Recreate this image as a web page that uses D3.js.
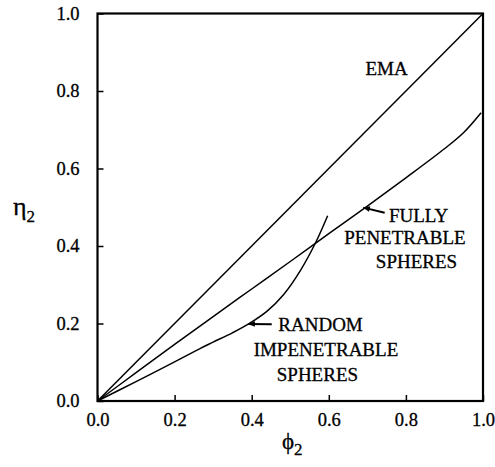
<!DOCTYPE html>
<html>
<head>
<meta charset="utf-8">
<script src="https://cdn.jsdelivr.net/npm/d3@7"></script>
<style>
  body { margin: 0; background: #fff; }
  svg text { font-family: "Liberation Serif", serif; fill: #000; stroke: #000; stroke-width: 0.3px; }
</style>
</head>
<body>
<div id="chart"></div>
<script>
// values (phi_2 -> eta_2)
const tickValues = [0, 0.2, 0.4, 0.6, 0.8, 1.0];

const emaPhi = [0, 1.0];
const emaEta = [0, 1.0];

const fullyPhi = [0, 0.1, 0.2, 0.3, 0.4, 0.5, 0.6, 0.7, 0.8, 0.9, 0.95, 0.995];
const fullyEta = [0, 0.073, 0.146, 0.218, 0.289, 0.36, 0.432, 0.503, 0.576, 0.651, 0.693, 0.744];

const randomPhi = [0, 0.1, 0.2, 0.267, 0.3, 0.35, 0.392, 0.44, 0.483, 0.527, 0.566, 0.597];
const randomEta = [0, 0.05, 0.101, 0.136, 0.152, 0.176, 0.199, 0.232, 0.275, 0.338, 0.409, 0.478];

// curve labels: lines of text, anchor in data units
const labelText = [["EMA"], ["FULLY", "PENETRABLE", "SPHERES"], ["RANDOM", "IMPENETRABLE", "SPHERES"]];
const labelPhi = [[0.695], [0.756, 0.64, 0.722], [0.469, 0.405, 0.465]];
const labelEta = [[0.842], [0.462, 0.404, 0.342], [0.18, 0.115, 0.052]];

// arrows pointing at curves: [tailPhi, tailEta, tipPhi, tipEta]
const arrows = [
  [0.745, 0.486, 0.69, 0.499],
  [0.452, 0.198, 0.392, 0.199]
];

const serif = '"Liberation Serif", serif';
const width = 495;
const height = 467;

let svg = d3.select('#chart')
  .append('svg')
    .attr('width', width)
    .attr('height', height);

let x = d3.scaleLinear().domain([0, 1]).range([97.5, 483]);
let y = d3.scaleLinear().domain([0, 1]).range([401, 13.5]);

let fmt = d3.format('.1f');

let xAxis = d3.axisBottom(x)
  .tickValues(tickValues)
  .tickFormat(fmt)
  .tickSizeInner(-6)
  .tickSizeOuter(0)
  .tickPadding(12);
let yAxis = d3.axisLeft(y)
  .tickValues(tickValues)
  .tickFormat(fmt)
  .tickSizeInner(-6)
  .tickSizeOuter(0)
  .tickPadding(18);

let xAxisGroup = svg.append('g')
  .attr('transform', `translate(0,${y(0)})`)
  .call(xAxis);
let yAxisGroup = svg.append('g')
  .attr('transform', `translate(${x(0)},0)`)
  .call(yAxis);

for (let g of [xAxisGroup, yAxisGroup]) {
  g.attr('font-family', serif).attr('font-size', 18.5);
  g.select('.domain').remove();
  g.selectAll('line').attr('stroke', '#000').attr('stroke-width', 1.5);
  g.selectAll('text').attr('fill', '#000');
}

// frame
svg.append('rect')
  .attr('x', x(0))
  .attr('y', y(1))
  .attr('width', x(1) - x(0))
  .attr('height', y(0) - y(1))
  .attr('fill', 'none')
  .attr('stroke', '#000')
  .attr('stroke-width', 2.2);

// curves
let line = d3.line()
  .x(d => x(d[0]))
  .y(d => y(d[1]))
  .curve(d3.curveCatmullRom);

let series = [
  d3.zip(emaPhi, emaEta),
  d3.zip(fullyPhi, fullyEta),
  d3.zip(randomPhi, randomEta)
];

svg.append('g')
  .selectAll('path')
  .data(series)
  .enter()
    .append('path')
    .attr('d', line)
    .attr('fill', 'none')
    .attr('stroke', '#000')
    .attr('stroke-width', 1.5);

// labels
labelText.forEach((lines, i) => {
  lines.forEach((t, j) => {
    svg.append('text')
      .attr('x', x(labelPhi[i][j]))
      .attr('y', y(labelEta[i][j]))
      .attr('font-size', 19)
      .text(t);
  });
});

// arrows
svg.append('defs').append('marker')
  .attr('id', 'head')
  .attr('viewBox', '0 0 10 10')
  .attr('refX', 9)
  .attr('refY', 5)
  .attr('markerWidth', 9)
  .attr('markerHeight', 7)
  .attr('markerUnits', 'userSpaceOnUse')
  .attr('orient', 'auto')
  .append('path')
    .attr('d', 'M0,1 L10,5 L0,9 Z')
    .attr('fill', '#000');

svg.append('g')
  .selectAll('line')
  .data(arrows)
  .enter()
    .append('line')
    .attr('x1', d => x(d[0]))
    .attr('y1', d => y(d[1]))
    .attr('x2', d => x(d[2]))
    .attr('y2', d => y(d[3]))
    .attr('stroke', '#000')
    .attr('stroke-width', 2)
    .attr('marker-end', 'url(#head)');

// axis titles
let yTitle = svg.append('text')
  .attr('x', 13)
  .attr('y', 215)
  .attr('font-size', 26);
yTitle.append('tspan').text('\u03B7');
yTitle.append('tspan').attr('dy', 7).attr('font-size', 17).text('2');

let xTitle = svg.append('text')
  .attr('x', 282)
  .attr('y', 449)
  .attr('font-size', 23);
xTitle.append('tspan').text('\u03D5');
xTitle.append('tspan').attr('dy', 6).attr('font-size', 17).text('2');
</script>
</body>
</html>
